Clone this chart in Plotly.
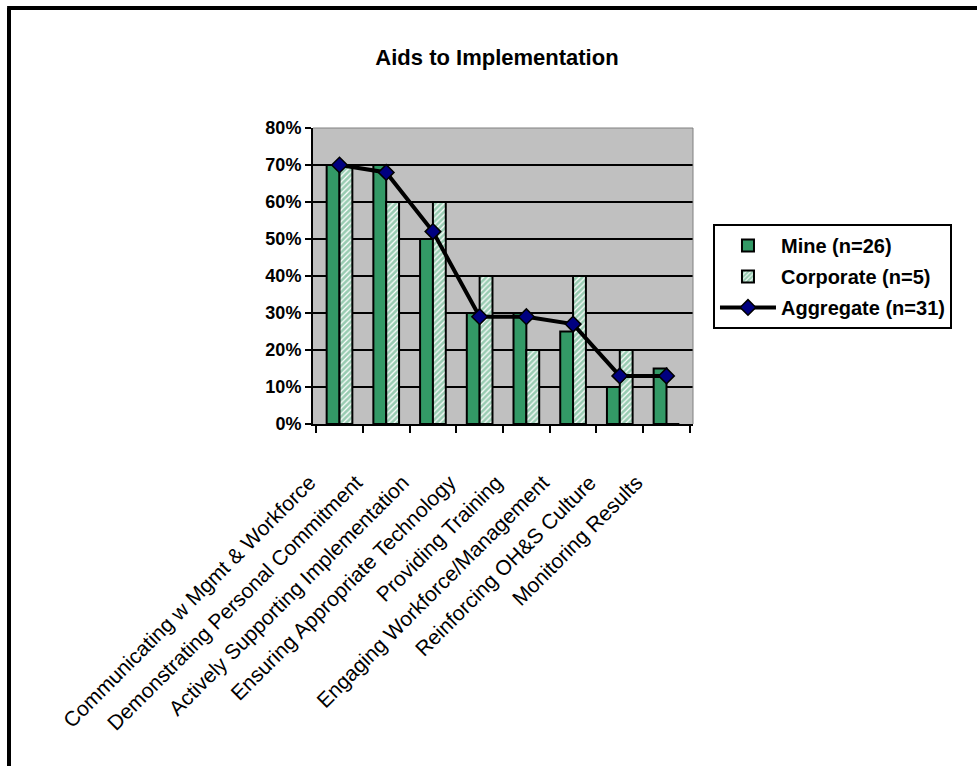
import plotly.graph_objects as go

# Survey results: share of respondents citing each aid to implementation
categories = [
    "Communicating w Mgmt & Workforce",
    "Demonstrating Personal Commitment",
    "Actively Supporting Implementation",
    "Ensuring Appropriate Technology",
    "Providing Training",
    "Engaging Workforce/Management",
    "Reinforcing OH&S Culture",
    "Monitoring Results",
]
mine = [0.70, 0.70, 0.50, 0.30, 0.30, 0.25, 0.10, 0.15]
corporate = [0.70, 0.60, 0.60, 0.40, 0.20, 0.40, 0.20, 0.00]
aggregate = [0.70, 0.68, 0.52, 0.29, 0.29, 0.27, 0.13, 0.13]

y_ticks = [0, 0.1, 0.2, 0.3, 0.4, 0.5, 0.6, 0.7, 0.8]

GREEN = "#339966"
NAVY = "#000080"
FONT = "Liberation Sans, Arial, sans-serif"

fig = go.Figure()

fig.add_trace(go.Bar(
    x=categories, y=mine, name="Mine (n=26)",
    legendgroup="a",
    marker=dict(color=GREEN, line=dict(color="black", width=2)),
))
fig.add_trace(go.Bar(
    x=categories, y=corporate, name="Corporate (n=5)",
    legendgroup="b",
    marker=dict(
        color="white",
        line=dict(color="black", width=2),
        pattern=dict(shape="/", fgcolor=GREEN, bgcolor="white",
                     size=4, solidity=0.7, fillmode="overlay"),
    ),
))
fig.add_trace(go.Scatter(
    x=categories, y=aggregate, name="Aggregate (n=31)",
    legendgroup="c",
    mode="lines+markers",
    line=dict(color="black", width=4),
    marker=dict(symbol="diamond", size=12, color=NAVY,
                line=dict(color="black", width=1.5)),
))

# Outer frame (left and top edges)
frame_x, frame_y = -0.8, 1.4054
fig.add_shape(type="line", xref="paper", yref="paper",
              x0=frame_x, x1=frame_x, y0=-1.3, y1=frame_y,
              line=dict(color="black", width=4))
fig.add_shape(type="line", xref="paper", yref="paper",
              x0=frame_x - 0.005, x1=1.9, y0=frame_y, y1=frame_y,
              line=dict(color="black", width=4))

fig.update_layout(
    width=977, height=766,
    margin=dict(l=313, r=284, t=128, b=342),
    paper_bgcolor="white",
    plot_bgcolor="#C0C0C0",
    barmode="group",
    bargap=0.45,
    bargroupgap=0,
    font=dict(family=FONT, color="black"),
    title=dict(
        text="<b>Aids to Implementation</b>",
        font=dict(size=22, family=FONT, color="black"),
        xref="container", yref="container", x=0.5087, y=0.9256,
        xanchor="center", yanchor="middle",
    ),
    legend=dict(
        x=1.0526, y=0.676, xanchor="left", yanchor="top",
        bgcolor="white", bordercolor="black", borderwidth=2,
        font=dict(size=20, family=FONT, color="black", weight="bold"),
        traceorder="grouped", tracegroupgap=2,
        itemwidth=56,
    ),
    showlegend=True,
)

fig.update_xaxes(
    type="category",
    tickangle=-45,
    tickfont=dict(size=21, family=FONT, color="black"),
    showline=True, linecolor="black", linewidth=2,
    ticks="outside", tickson="boundaries", ticklen=7,
    tickcolor="black", tickwidth=2,
    showgrid=False,
    mirror=False,
    ticklabelstandoff=36, ticklabelshift=-30,
)
fig.update_yaxes(
    range=[0, 0.8],
    tickvals=y_ticks,
    tickformat=".0%",
    tickfont=dict(size=18, family=FONT, color="black", weight="bold"),
    showline=True, linecolor="black", linewidth=2,
    ticks="outside", ticklen=6, tickcolor="black", tickwidth=2,
    showgrid=True, gridcolor="black", gridwidth=2,
    zeroline=False,
)

# Thin grey edge on the top and right of the plotting area
fig.add_shape(type="line", xref="paper", yref="paper",
              x0=0, x1=1, y0=1, y1=1, line=dict(color="#808080", width=1))
fig.add_shape(type="line", xref="paper", yref="paper",
              x0=1, x1=1, y0=0, y1=1, line=dict(color="#808080", width=1))

fig.write_html("out.html")
